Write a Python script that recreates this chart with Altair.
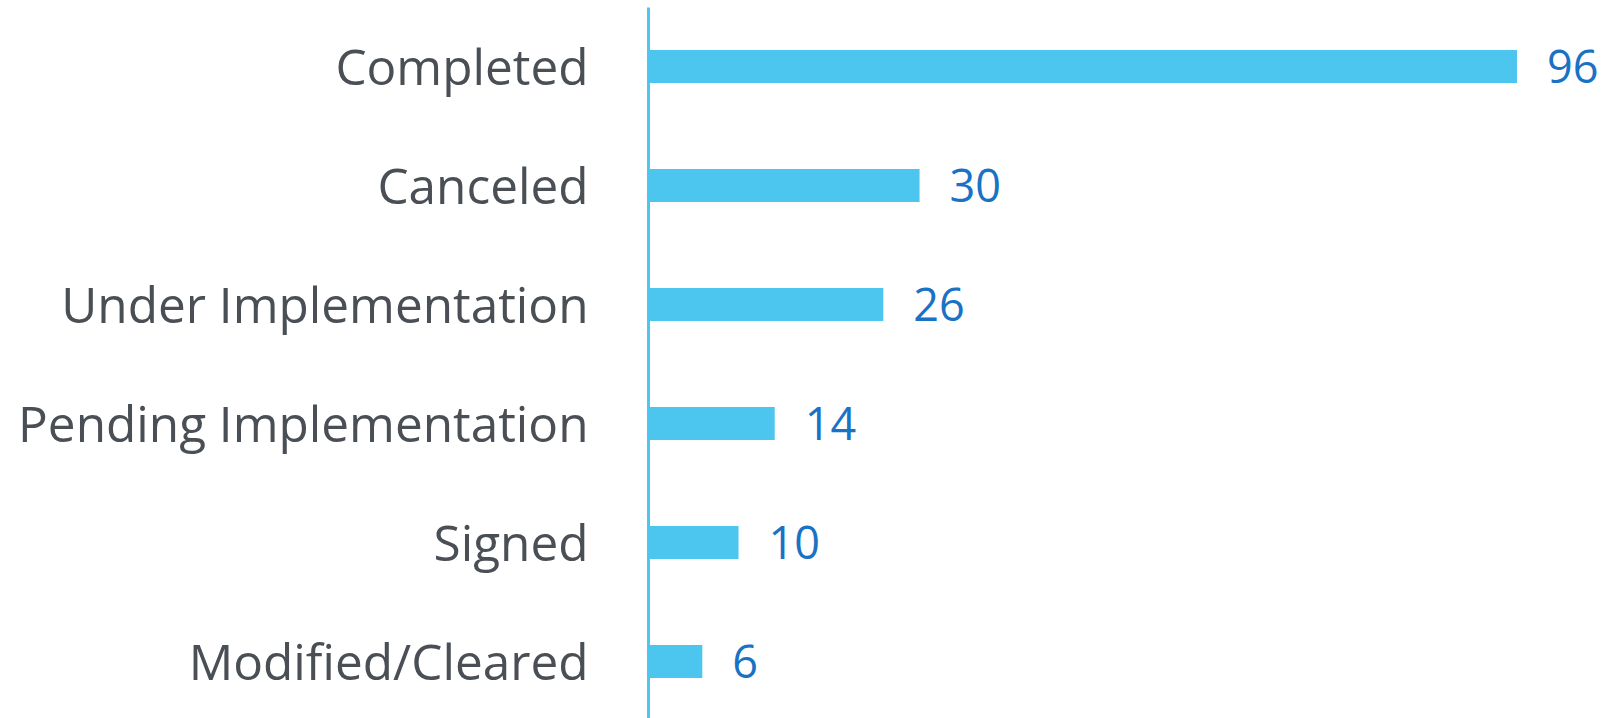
import altair as alt
import pandas as pd

categories = ["Completed", "Canceled", "Under Implementation",
              "Pending Implementation", "Signed", "Modified/Cleared"]
values = [96, 30, 26, 14, 10, 6]

df = pd.DataFrame({"status": categories, "count": values})

BAR = "#4cc6ee"
FONT = "Open Sans"

y_enc = alt.Y("status:N", sort=categories, title=None,
              scale=alt.Scale(paddingInner=0, paddingOuter=0),
              axis=alt.Axis(labelFont=FONT, labelFontSize=49.5, labelColor="#4a4f55",
                            labelPadding=60, ticks=False, domainColor=BAR,
                            domainWidth=3, labelLimit=1000, grid=False,
                            labelOffset=3))
x_enc = alt.X("count:Q", title=None, scale=alt.Scale(domain=[0, 96], nice=False),
              axis=None)

bars = alt.Chart(df).mark_bar(color=BAR, size=33).encode(x=x_enc, y=y_enc)
text = alt.Chart(df).mark_text(align="left", baseline="middle", dx=30, dy=2,
                               font=FONT, fontSize=45, color="#1a72c4").encode(
    x=x_enc, y=alt.Y("status:N", sort=categories), text="count:Q")

chart = (bars + text).properties(
    width=869, height=714,
    background="white",
    autosize=alt.AutoSizeParams(type="none"),
    padding={"left": 648, "top": 7, "right": 95, "bottom": 0},
).configure_view(stroke=None, strokeWidth=0)

chart.save("out.html", embed_options={"renderer": "svg", "actions": False})
